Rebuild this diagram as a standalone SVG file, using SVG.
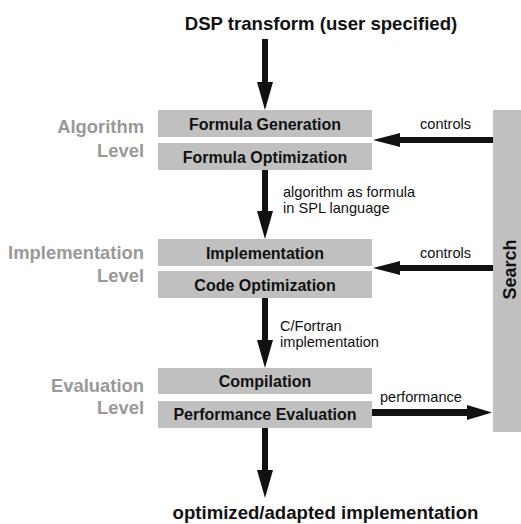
<svg xmlns="http://www.w3.org/2000/svg" width="521" height="524" viewBox="0 0 521 524">
<style>
.box{fill:#c0c0c0}
.bt{font-family:"Liberation Sans",Arial,sans-serif;font-weight:bold;font-size:16px;fill:#111;text-anchor:middle}
.lv{font-family:"Liberation Sans",Arial,sans-serif;font-weight:bold;font-size:18.4px;fill:#999;text-anchor:end}
.lb{font-family:"Liberation Sans",Arial,sans-serif;font-size:14.6px;fill:#111}
.tt{font-family:"Liberation Sans",Arial,sans-serif;font-weight:bold;font-size:18.6px;fill:#111;text-anchor:middle}
.ar{fill:#111}
</style>
<rect width="521" height="524" fill="#fff"/>
<text class="tt" x="321" y="30">DSP transform (user specified)</text>
<text class="tt" x="325.5" y="519">optimized/adapted implementation</text>
<g id="levels">
<text class="lv" x="144" y="133">Algorithm</text>
<text class="lv" x="144" y="157">Level</text>
<text class="lv" x="144" y="259">Implementation</text>
<text class="lv" x="144" y="282">Level</text>
<text class="lv" x="144" y="392">Evaluation</text>
<text class="lv" x="144" y="414">Level</text>
</g>
<g id="formula-generation"><rect class="box" x="158" y="110" width="214" height="27"/><text class="bt" x="265" y="129.5">Formula Generation</text></g>
<g id="formula-optimization"><rect class="box" x="158" y="143" width="214" height="27"/><text class="bt" x="265" y="162.5">Formula Optimization</text></g>
<g id="implementation"><rect class="box" x="158" y="239" width="214" height="27"/><text class="bt" x="265" y="258.5">Implementation</text></g>
<g id="code-optimization"><rect class="box" x="158" y="271" width="214" height="27"/><text class="bt" x="265" y="290.5">Code Optimization</text></g>
<g id="compilation"><rect class="box" x="158" y="368" width="214" height="26"/><text class="bt" x="265" y="386.5">Compilation</text></g>
<g id="performance-evaluation"><rect class="box" x="158" y="401" width="214" height="27"/><text class="bt" x="265" y="419.5">Performance Evaluation</text></g>
<g id="search"><rect class="box" x="493" y="110" width="28" height="322"/><text class="bt" transform="translate(515.5,269.5) rotate(-90)" x="0" y="0" style="font-size:18px">Search</text></g>
<g id="connectors">
<polygon class="ar" points="262,39 268,39 268,82 273,82 265,110 257,82 262,82"/>
<polygon class="ar" points="262,170 268,170 268,211 273,211 265,239 257,211 262,211"/>
<polygon class="ar" points="262,298 268,298 268,340 273,340 265,368 257,340 262,340"/>
<polygon class="ar" points="262,428 268,428 268,470 273,470 265,498 257,470 262,470"/>
<polygon class="ar" points="493,137 400,137 400,133 373,140 400,147 400,143 493,143"/>
<polygon class="ar" points="493,265 400,265 400,261 373,268 400,275 400,271 493,271"/>
<polygon class="ar" points="372,409 467,409 467,405 492,412.5 467,420 467,416 372,416"/>
</g>
<g id="labels">
<text class="lb" x="420" y="129">controls</text>
<text class="lb" x="420" y="258">controls</text>
<text class="lb" x="380" y="402">performance</text>
<text class="lb" x="283" y="197">algorithm as formula</text>
<text class="lb" x="283" y="213">in SPL language</text>
<text class="lb" x="280" y="331">C/Fortran</text>
<text class="lb" x="280" y="347">implementation</text>
</g>
</svg>
